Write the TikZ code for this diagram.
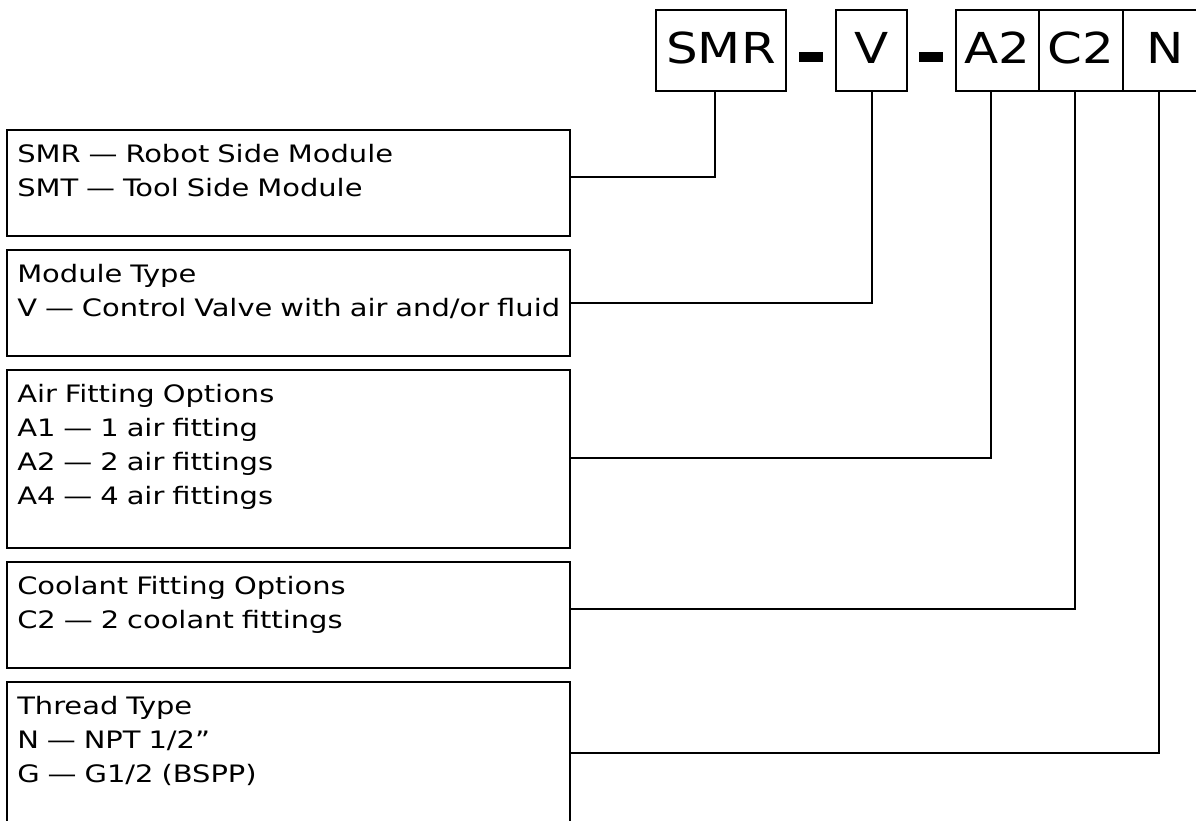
\documentclass[tikz,border=0pt]{standalone}
\usepackage{fontspec}
\setmainfont{DejaVu Sans Condensed}
\newfontfamily\codefont[FakeStretch=1.3]{DejaVu Sans Condensed}
\newfontfamily\optfont[FakeStretch=1.34]{DejaVu Sans Condensed}
\usepackage{tikz}
\usetikzlibrary{calc}

\tikzset{
  codebox/.style={draw, line width=1.9pt, minimum height=60.75pt, inner sep=0pt, outer sep=0pt,
    text depth=4.5pt, font=\codefont\fontsize{32}{38}\selectfont},
  dashbar/.style={fill=black, minimum width=18pt, minimum height=7.5pt, inner sep=0pt},
  optbox/.style={draw, line width=2.2pt, anchor=north west, minimum width=422.25pt, inner sep=0pt, outer sep=0pt},
  opttext/.style={anchor=north west, inner sep=0pt, text width=415pt, align=left,
    font=\optfont\fontsize{18}{25.5}\selectfont, execute at begin node=\strut},
  link/.style={line width=1.5pt}
}

\begin{document}
\begin{tikzpicture}[x=0.75pt, y=-0.75pt]
  \useasboundingbox (0,0) rectangle (1196,821);
  % part number
  \node[codebox, minimum width=97.5pt] (smr) at (721,50.5) {SMR};
  \node[dashbar] (dash1) at (811,57) {};
  \node[codebox, minimum width=53.25pt] (v) at (871.5,50.5) {V};
  \node[dashbar] (dash2) at (931,57) {};
  \node[codebox, minimum width=62.25pt] (a2) at (997.5,50.5) {A2};
  \node[codebox, minimum width=63pt] (c2) at (1081,50.5) {C2};
  \node[codebox, minimum width=63pt] (n) at (1165,50.5) {N};
  % option boxes
  \node[optbox, minimum height=79.5pt] (smrbox) at (7,130) {};
  \node[opttext] (smrtext) at ($(smrbox.north west)+(10,8)$) {SMR — Robot Side Module\\SMT — Tool Side Module};
  \node[optbox, minimum height=79.5pt] (vbox) at (7,250) {};
  \node[opttext] (vtext) at ($(vbox.north west)+(10,8)$) {Module Type\\V — Control Valve with air and/or fluid};
  \node[optbox, minimum height=133.5pt] (airbox) at (7,370) {};
  \node[opttext] (airtext) at ($(airbox.north west)+(10,8)$) {Air Fitting Options\\A1 — 1 air fitting\\A2 — 2 air fittings\\A4 — 4 air fittings};
  \node[optbox, minimum height=79.5pt] (coolbox) at (7,562) {};
  \node[opttext] (cooltext) at ($(coolbox.north west)+(10,8)$) {Coolant Fitting Options\\C2 — 2 coolant fittings};
  \node[optbox, minimum height=106.5pt] (threadbox) at (7,682) {};
  \node[opttext] (threadtext) at ($(threadbox.north west)+(10,8)$) {Thread Type\\N — NPT 1/2”\\G — G1/2 (BSPP)};
  % connectors
  \draw[link] ([xshift=-4.5pt]smr.south) |- ([yshift=4.5pt]smrbox.east);
  \draw[link] (v.south) |- (vbox.east);
  \draw[link] ([xshift=-4.9pt]a2.south) |- ([yshift=0.75pt]airbox.east);
  \draw[link] ([xshift=-4.5pt]c2.south) |- ([yshift=4.5pt]coolbox.east);
  \draw[link] ([xshift=-4.5pt]n.south) |- (threadbox.east);
\end{tikzpicture}
\end{document}
